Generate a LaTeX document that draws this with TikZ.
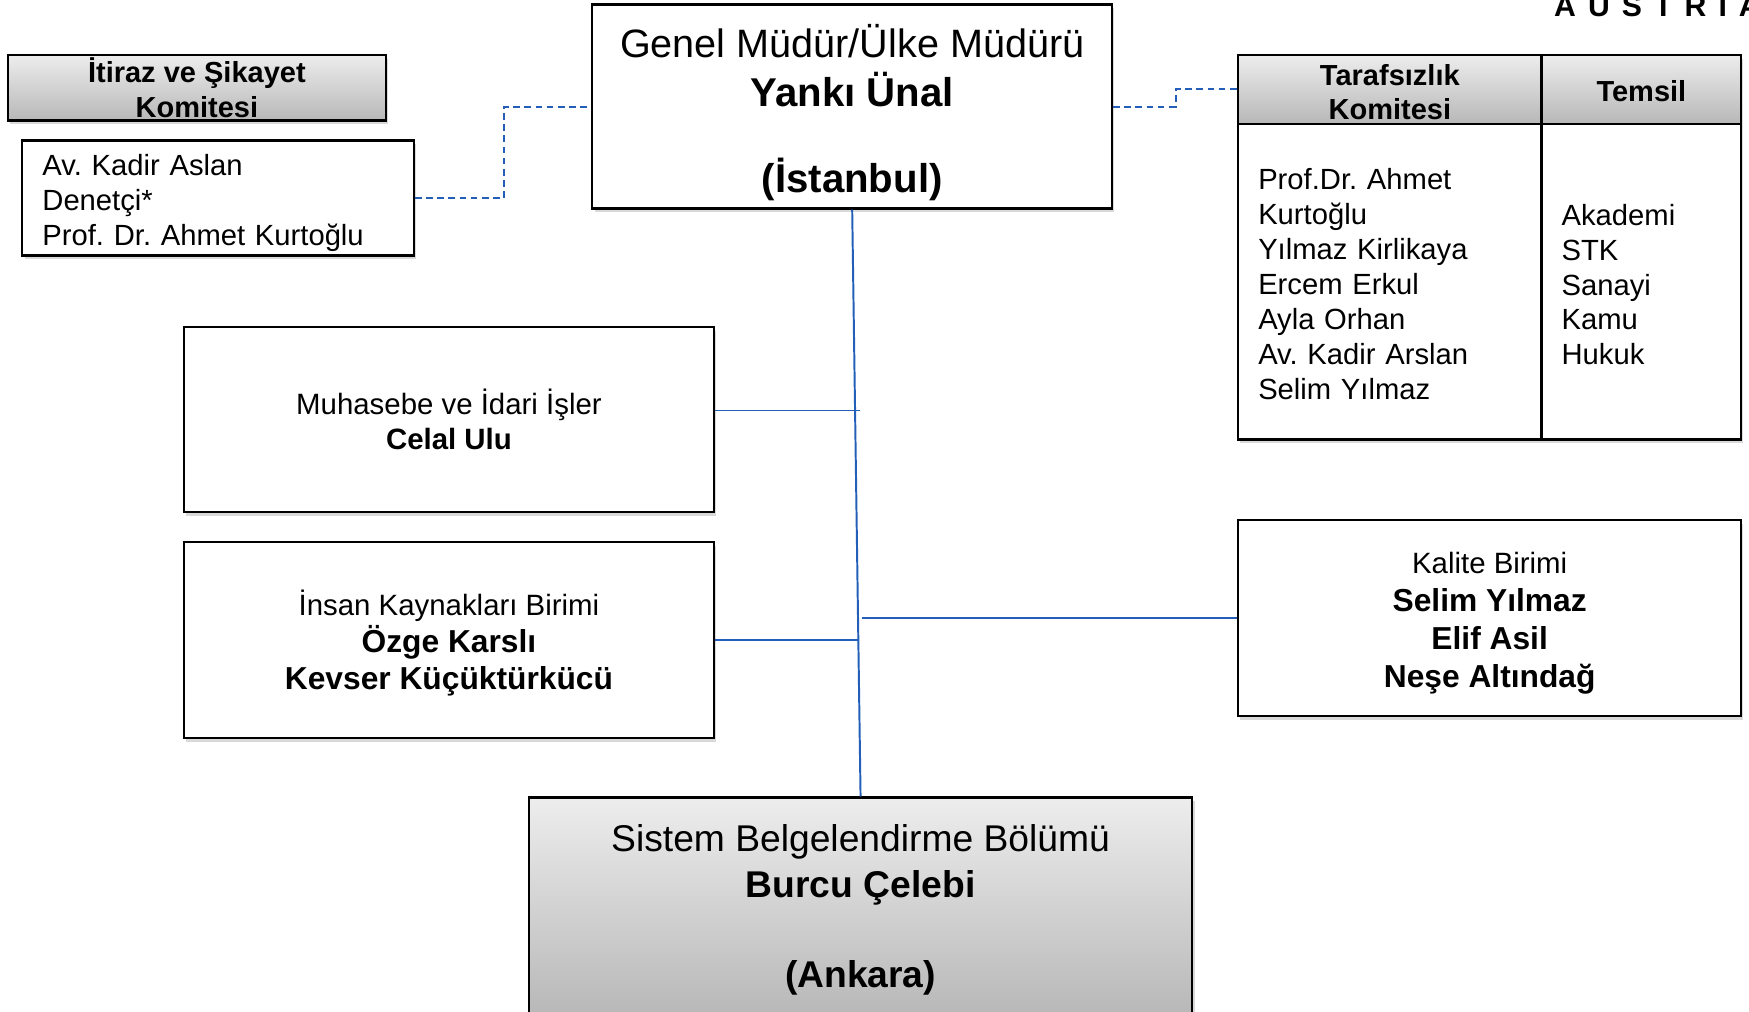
\documentclass[tikz,border=0pt]{standalone}
\usepackage{fontspec}
\setmainfont{Liberation Sans}
\newfontfamily\logofont{Liberation Sans}[LetterSpace=40]
\usepackage{tikz}
\usetikzlibrary{shadows}
\definecolor{orgblue}{RGB}{35,95,185}
\newcommand{\nm}[1]{{\fontsize{16.2}{19.2}\selectfont\bfseries #1}}
\frenchspacing

\begin{document}
\begin{tikzpicture}[x=0.02cm, y=-0.02cm]
    \tikzstyle{unit} = [draw, fill=white, line width=1.1pt, inner sep=0pt, drop shadow={shadow xshift=0.4mm, shadow yshift=-0.7mm, opacity=0.3}]
    \tikzstyle{grayunit} = [unit, top color=black!7, bottom color=black!28]
    \tikzstyle{head} = [font=\fontsize{14.8}{17.6}\selectfont\bfseries, align=center]
    \tikzstyle{link} = [orgblue, line width=1pt]
    \tikzstyle{dashlink} = [link, dash pattern=on 3.4pt off 2.3pt]
    \useasboundingbox (0,0) rectangle (1568,907);

    \node[font=\logofont\bfseries\fontsize{15.4}{18}\selectfont, anchor=base west, inner sep=0pt] (logo) at (1393,15) {AUSTRIA};

    \node[grayunit, head, minimum width=6.78cm, minimum height=1.18cm] (itiraz) at (176.5,78.5) {İtiraz ve Şikayet\\Komitesi};
    \node[unit, minimum width=7.02cm, minimum height=2.06cm, text width=6.3cm, inner xsep=0.36cm, align=left, font=\fontsize{14.9}{17.9}\selectfont] (itirazuye) at (195.5,177.5) {\rule{0pt}{15.5pt}Av. Kadir Aslan\\Denetçi*\\Prof. Dr. Ahmet Kurtoğlu};

    \node[unit, minimum width=9.32cm, minimum height=3.66cm, align=center, font=\fontsize{20.2}{22}\selectfont] (genel) at (764,95.5) {\rule{0pt}{23pt}Genel Müdür/Ülke Müdürü\\[3pt]{\fontsize{20.5}{22}\selectfont\bfseries Yankı Ünal}\\[21.8pt]{\fontsize{20.5}{22}\selectfont\bfseries (İstanbul)}};

    \node[grayunit, head, minimum width=5.44cm, minimum height=1.24cm] (tarafbas) at (1246,80) {\rule{0pt}{13.5pt}Tarafsızlık\\Komitesi};
    \node[grayunit, head, minimum width=3.58cm, minimum height=1.24cm] (temsilbas) at (1471.5,80) {\rule{0pt}{12.5pt}Temsil};
    \node[unit, minimum width=5.44cm, minimum height=5.66cm, text width=4.72cm, inner xsep=0.36cm, align=left, font=\fontsize{14.9}{17.8}\selectfont] (tarafuye) at (1246,252.5) {\rule{0pt}{13.2pt}Prof.Dr. Ahmet\\Kurtoğlu\\Yılmaz Kirlikaya\\Ercem Erkul\\Ayla Orhan\\Av. Kadir Arslan\\Selim Yılmaz};
    \node[unit, minimum width=3.58cm, minimum height=5.66cm, text width=2.86cm, inner xsep=0.36cm, align=left, font=\fontsize{14.9}{17.8}\selectfont] (temsil) at (1471.5,252.5) {\rule{0pt}{13.8pt}Akademi\\STK\\Sanayi\\Kamu\\Hukuk};

    \node[unit, minimum width=9.5cm, minimum height=3.32cm, align=center, font=\fontsize{15}{17.6}\selectfont] (muhasebe) at (402.5,376) {Muhasebe ve İdari İşler\\\textbf{Celal Ulu}};
    \node[unit, minimum width=9.5cm, minimum height=3.52cm, align=center, font=\fontsize{15}{19.1}\selectfont] (ik) at (402.5,574) {\rule{0pt}{15.8pt}İnsan Kaynakları Birimi\\\nm{Özge Karslı}\\\nm{Kevser Küçüktürkücü}};
    \node[unit, minimum width=9.02cm, minimum height=3.52cm, align=center, font=\fontsize{15}{19.3}\selectfont] (kalite) at (1335.5,554) {\rule{0pt}{16pt}Kalite Birimi\\\nm{Selim Yılmaz}\\\nm{Elif Asil}\\\nm{Neşe Altındağ}};
    \node[grayunit, minimum width=11.9cm, minimum height=3.9cm, align=center, font=\fontsize{19}{23}\selectfont] (sistem) at (771.5,812.5) {\rule{0pt}{17.5pt}Sistem Belgelendirme Bölümü\\\textbf{Burcu Çelebi}\\[23pt]\textbf{(Ankara)}};

    \coordinate (mbag) at (771,368);
    \coordinate (ikbag) at (769,574);
    \coordinate (kbag) at (773,554);
    \draw[link] (genel.south) -- (sistem.north);
    \draw[link] (muhasebe.east |- mbag) -- (mbag);
    \draw[link] (ik.east) -- (ikbag);
    \draw[link] (kalite.west) -- (kbag);
    \draw[dashlink] (itirazuye.east) -- ++(80,0) |- (genel.west);
    \draw[dashlink] (genel.east) -- ++(56,0) |- (tarafbas.west);
\end{tikzpicture}
\end{document}
